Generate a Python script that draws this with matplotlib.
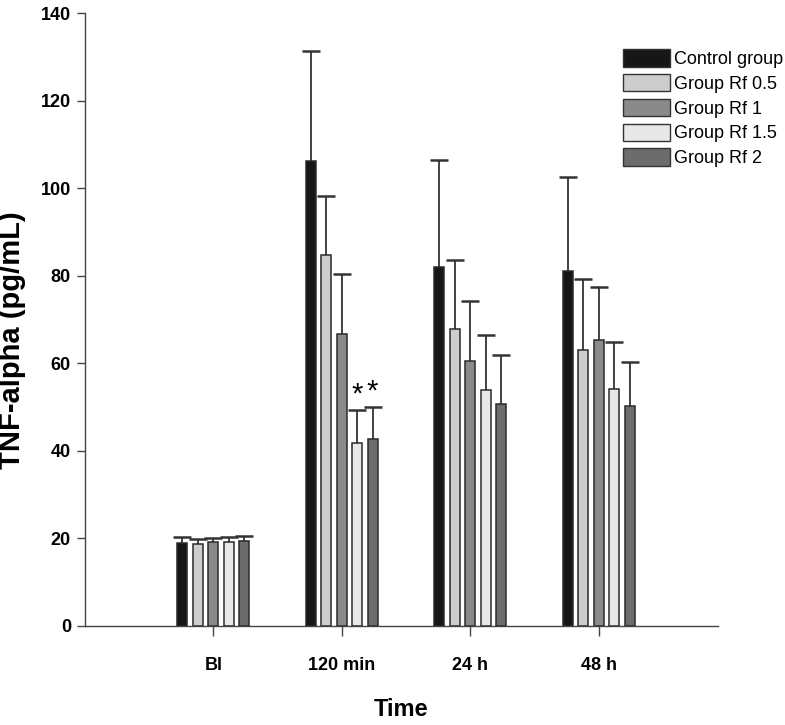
import matplotlib
matplotlib.use("Agg")
import matplotlib.pyplot as plt
import numpy as np
from matplotlib.patches import Patch

times = ["Bl", "120 min", "24 h", "48 h"]
groups = ["Control group", "Group Rf 0.5", "Group Rf 1", "Group Rf 1.5", "Group Rf 2"]
means = {
    "Control group": [19.0, 106.3, 82.0, 81.0],
    "Group Rf 0.5": [18.8, 84.8, 67.8, 63.0],
    "Group Rf 1":   [19.1, 66.6, 60.5, 65.3],
    "Group Rf 1.5": [19.1, 41.8, 54.0, 54.2],
    "Group Rf 2":   [19.4, 42.7, 50.8, 50.2],
}
errors = {
    "Control group": [1.4, 25.0, 24.5, 21.5],
    "Group Rf 0.5": [1.0, 13.3, 15.9, 16.3],
    "Group Rf 1":   [1.0, 13.7, 13.7, 12.2],
    "Group Rf 1.5": [1.3, 7.5, 12.5, 10.6],
    "Group Rf 2":   [1.2, 7.3, 11.2, 10.1],
}
colors = ["#161616", "#cdcdcd", "#8a8a8a", "#e8e8e8", "#6c6c6c"]
significant = [("Group Rf 1.5", 1), ("Group Rf 2", 1)]

font = ["Liberation Sans", "DejaVu Sans"]

fig = plt.figure(figsize=(7.85, 7.25), dpi=100)
ax = fig.add_axes([0.108, 0.1366, 0.807, 0.8454])

x = np.arange(len(times))
width = 0.078
step = 0.12
for i, g in enumerate(groups):
    pos = x + (i - 2) * step
    ax.bar(pos, means[g], width=width, color=colors[i], edgecolor="#2a2a2a",
           linewidth=1.1, zorder=3)
    eb = ax.errorbar(pos, means[g], yerr=[np.zeros(len(times)), errors[g]], fmt="none",
                     ecolor="#333333", elinewidth=1.3, capsize=6.5, capthick=1.8, zorder=2)
    caps = eb[1]
    if len(caps) == 2:
        caps[0].set_visible(False)

for g, t in significant:
    i = groups.index(g)
    ax.text(x[t] + (i - 2) * step, means[g][t] + errors[g][t] + 0.4, "*",
            ha="center", va="bottom", fontsize=21, family=font)

ax.set_xlim(-1.0, 3.93)
ax.set_ylim(0, 140)
ax.set_yticks(np.arange(0, 141, 20))
ax.set_xticks(x)
ax.set_xticklabels(times, family=font, fontsize=13, fontweight="bold")
for lab in ax.get_yticklabels():
    lab.set_family(font)
    lab.set_fontsize(13)
    lab.set_fontweight("bold")
ax.spines["top"].set_visible(False)
ax.spines["right"].set_visible(False)
for s in ["left", "bottom"]:
    ax.spines[s].set_color("#444444")
    ax.spines[s].set_linewidth(1.0)
ax.tick_params(axis="y", direction="out", length=6, width=1.0, color="#444444", pad=4)
ax.tick_params(axis="x", direction="out", length=7, width=1.0, color="#444444", pad=15)

ax.set_ylabel("TNF-alpha (pg/mL)", family=font, fontsize=21, fontweight="bold")
ax.yaxis.set_label_coords(-0.092, 0.466)
ax.set_xlabel("Time", family=font, fontsize=17, fontweight="bold")
ax.xaxis.set_label_coords(0.5, -0.118)

handles = [Patch(facecolor=colors[i], edgecolor="#333333", linewidth=1.0) for i in range(5)]
leg = fig.legend(handles, groups, loc="upper left", bbox_to_anchor=(0.784, 0.942),
                 frameon=False, prop={"family": font, "size": 13},
                 handlelength=2.6, handleheight=1.1, handletextpad=0.25, labelspacing=0.33,
                 borderaxespad=0)

fig.savefig("out.png", dpi=100)
